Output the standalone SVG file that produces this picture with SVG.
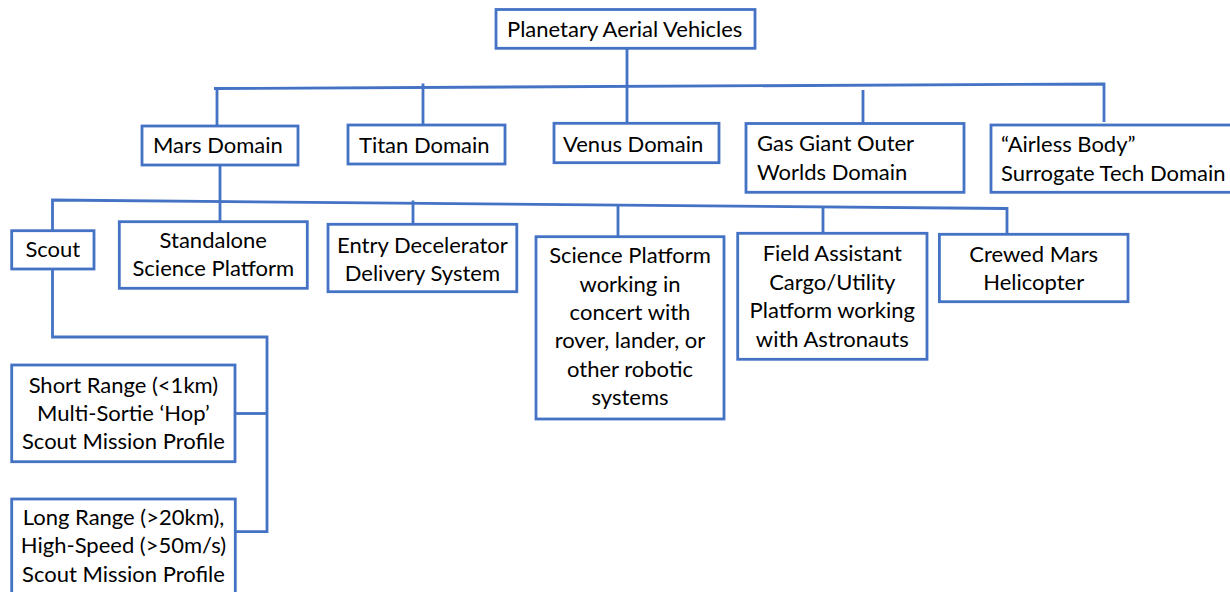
<svg xmlns="http://www.w3.org/2000/svg" width="1230" height="592" viewBox="0 0 1230 592">
  <style>
    .box { fill: #ffffff; stroke: #4472C4; stroke-width: 2.8; }
    .wire { fill: none; stroke: #4472C4; stroke-width: 2.8; }
    text { font-family: Lato, "Open Sans", sans-serif; font-size: 22px; fill: #000000; }
    .c { text-anchor: middle; }
  </style>
  <rect width="1230" height="592" fill="#ffffff"/>

  <!-- connectors -->
  <g id="connectors">
    <!-- top-level bus -->
    <path class="wire" d="M214,88.5 L1104,84 L1104,122"/>
    <path class="wire" d="M627,48 L627,124"/>
    <path class="wire" d="M217,89 L217,126"/>
    <path class="wire" d="M423,83.5 L423,125"/>
    <path class="wire" d="M863,90 L863,123.5"/>
    <!-- Mars sub-bus -->
    <path class="wire" d="M52.5,230.7 L52.5,200 L1007,208.5 L1007,234.3"/>
    <path class="wire" d="M220,165 L220,221.7"/>
    <path class="wire" d="M413,200.5 L413,224.3"/>
    <path class="wire" d="M618,206 L618,236.7"/>
    <path class="wire" d="M823,207 L823,233.3"/>
    <!-- Scout mission profiles -->
    <path class="wire" d="M52.5,269 L52.5,337 L267,337 L267,531.7 L235.3,531.7"/>
    <path class="wire" d="M235,413.5 L267,413.5"/>
  </g>

  <g id="planetary-aerial-vehicles">
    <rect class="box" x="496" y="9.5" width="259" height="38.8"/>
    <text x="507" y="37">Planetary Aerial Vehicles</text>
  </g>
  <g id="mars-domain">
    <rect class="box" x="142" y="126" width="156" height="39"/>
    <text x="153" y="153">Mars Domain</text>
  </g>
  <g id="titan-domain">
    <rect class="box" x="348" y="125" width="157" height="39"/>
    <text x="359" y="152.5">Titan Domain</text>
  </g>
  <g id="venus-domain">
    <rect class="box" x="554" y="123.3" width="165" height="39.4"/>
    <text x="563" y="151.5">Venus Domain</text>
  </g>
  <g id="gas-giant-domain">
    <rect class="box" x="746" y="123.5" width="218" height="68.8"/>
    <text x="757" y="150.5">Gas Giant Outer</text>
    <text x="757" y="180">Worlds Domain</text>
  </g>
  <g id="airless-body-domain">
    <rect class="box" x="991" y="125" width="241" height="67.3"/>
    <text x="1001" y="151.5">“Airless Body”</text>
    <text x="1001" y="181">Surrogate Tech Domain</text>
  </g>

  <g id="scout">
    <rect class="box" x="11.7" y="230.7" width="82.3" height="38.3"/>
    <text class="c" x="52.8" y="256.7">Scout</text>
  </g>
  <g id="standalone-science-platform">
    <rect class="box" x="119.3" y="221.7" width="188" height="66.6"/>
    <text class="c" x="213.3" y="248.3">Standalone</text>
    <text class="c" x="213.3" y="276">Science Platform</text>
  </g>
  <g id="entry-decelerator">
    <rect class="box" x="328" y="224.3" width="188.8" height="67.4"/>
    <text class="c" x="422.4" y="252.5">Entry Decelerator</text>
    <text class="c" x="422.4" y="280.5">Delivery System</text>
  </g>
  <g id="science-platform-concert">
    <rect class="box" x="536" y="236.7" width="188" height="182.3"/>
    <text class="c" x="630" y="263.3">Science Platform</text>
    <text class="c" x="630" y="291.7">working in</text>
    <text class="c" x="630" y="319.5">concert with</text>
    <text class="c" x="630" y="347.7">rover, lander, or</text>
    <text class="c" x="630" y="376.5">other robotic</text>
    <text class="c" x="630" y="405">systems</text>
  </g>
  <g id="field-assistant">
    <rect class="box" x="737.7" y="233.3" width="189.3" height="126"/>
    <text class="c" x="832.3" y="261">Field Assistant</text>
    <text class="c" x="832.3" y="289.5">Cargo/Utility</text>
    <text class="c" x="832.3" y="318">Platform working</text>
    <text class="c" x="832.3" y="346.5">with Astronauts</text>
  </g>
  <g id="crewed-mars-helicopter">
    <rect class="box" x="939.4" y="234.3" width="188.6" height="67.4"/>
    <text class="c" x="1033.7" y="261.5">Crewed Mars</text>
    <text class="c" x="1033.7" y="290">Helicopter</text>
  </g>

  <g id="short-range-scout">
    <rect class="box" x="11.7" y="365" width="223.3" height="96.7"/>
    <text class="c" x="123.4" y="392.7">Short Range (&lt;1km)</text>
    <text class="c" x="123.4" y="420.7">Multi-Sortie ‘Hop’</text>
    <text class="c" x="123.4" y="449.3">Scout Mission Profile</text>
  </g>
  <g id="long-range-scout">
    <rect class="box" x="11.7" y="499" width="223.6" height="102"/>
    <text class="c" x="123.5" y="525">Long Range (&gt;20km),</text>
    <text class="c" x="123.5" y="553.3">High-Speed (&gt;50m/s)</text>
    <text class="c" x="123.5" y="581.7">Scout Mission Profile</text>
  </g>
</svg>
